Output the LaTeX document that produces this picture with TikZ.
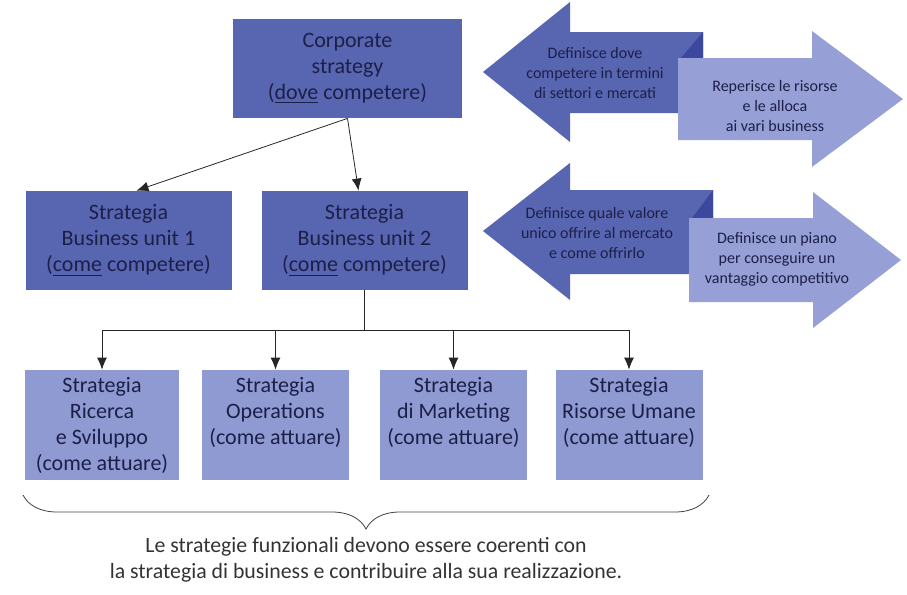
\documentclass[tikz,border=0pt]{standalone}
\usepackage{fontspec}
\setmainfont{Carlito}
\usetikzlibrary{arrows.meta,decorations.pathreplacing}
\definecolor{darkbox}{RGB}{88,101,176}
\definecolor{lightbox}{RGB}{143,153,210}
\definecolor{lightarrow}{RGB}{150,159,214}
\definecolor{foldcol}{RGB}{60,72,158}
\definecolor{navytext}{RGB}{28,32,72}

\begin{document}
\begin{tikzpicture}[x=0.5pt, y=-0.5pt, every node/.style={font=\fontsize{11}{13}\selectfont, text=navytext, align=center, inner sep=0pt}, >={Latex[length=6pt,width=5pt]},
	bizbox/.style={fill=darkbox, minimum height=49.5pt, minimum width=103pt},
	funcbox/.style={fill=lightbox, minimum height=55pt, minimum width=73.5pt},
	arrowtext/.style={font=\fontsize{8}{10}\selectfont}]
	\useasboundingbox (0,0) rectangle (907,595);
	\fill[darkbox] (483,72) -- (570,2) -- (570,32) -- (703,32) -- (703,113) -- (570,113) -- (570,142) -- cycle;
	\fill[foldcol] (681,58) -- (703,32) -- (703,58) -- cycle;
	\fill[lightarrow] (678,58) -- (812,58) -- (812,31) -- (903,99) -- (812,167) -- (812,140) -- (678,140) -- cycle;
	\fill[darkbox] (483,231) -- (570,163) -- (570,190) -- (713,190) -- (713,274) -- (570,274) -- (570,300) -- cycle;
	\fill[foldcol] (692,218) -- (713,190) -- (713,218) -- cycle;
	\fill[lightarrow] (689,218) -- (813,218) -- (813,192) -- (901,260) -- (813,328) -- (813,302) -- (689,302) -- cycle;
	\node[arrowtext] (where) at (595,73) {Definisce dove\\competere in termini\\di settori e mercati};
	\node[arrowtext] (alloc) at (775,106) {Reperisce le risorse\\e le alloca\\ai vari business};
	\node[arrowtext] (value) at (597,233) {Definisce quale valore\\unico offrire al mercato\\e come offrirlo};
	\node[arrowtext] (plan) at (777,259) {Definisce un piano\\per conseguire un\\vantaggio competitivo};
	\node[bizbox, minimum width=114.5pt] (corp) at (347.5,68.5) {Corporate\\strategy\\(\underline{dove} competere)};
	\node[bizbox] (bu1) at (128.5,240.5) {Strategia\\Business unit 1\\(\underline{come} competere)};
	\node[bizbox] (bu2) at (364.5,240.5) {Strategia\\Business unit 2\\(\underline{come} competere)};
	\node[funcbox, minimum width=77pt] (f1) at (102,425) {Strategia\\Ricerca\\e Sviluppo\\(come attuare)};
	\node[funcbox] (f2) at (275.5,425) {Strategia\\Operations\\(come attuare)\\\vphantom{(}};
	\node[funcbox] (f3) at (453.5,425) {Strategia\\di Marketing\\(come attuare)\\\vphantom{(}};
	\node[funcbox] (f4) at (629,425) {Strategia\\Risorse Umane\\(come attuare)\\\vphantom{(}};
	\draw[->, black!85] (corp.south) -- ([xshift=4pt]bu1.north);
	\draw[->, black!85] (corp.south) -- ([xshift=-3pt]bu2.north);
	\draw[black!85] (bu2.south) -- ++(0,40) coordinate (split);
	\foreach \f in {f1,f2,f3,f4}
		\draw[->, black!85] (split) -| (\f.north);
	\draw[black!75, decorate, decoration={brace, mirror, amplitude=17pt}] (23,495) -- (709,495) coordinate[midway] (bracetip);
	\node[text=black!80, font=\fontsize{10.9}{13}\selectfont] (note) at (366,560) {Le strategie funzionali devono essere coerenti con\\la strategia di business e contribuire alla sua realizzazione.};
\end{tikzpicture}
\end{document}
